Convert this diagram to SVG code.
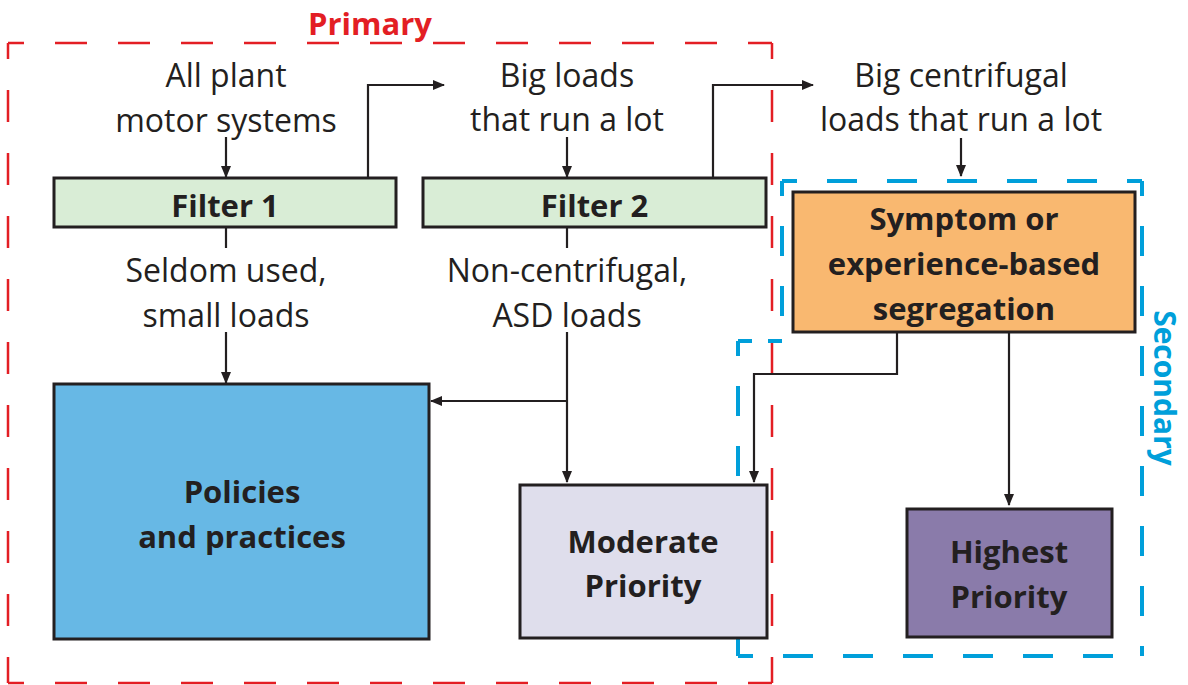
<svg xmlns="http://www.w3.org/2000/svg" width="1188" height="685" viewBox="0 0 1188 685">
<defs>
<style>
.lbl{font-family:"Open Sans","Liberation Sans",sans-serif;font-size:32px;fill:#231F20;text-anchor:middle}
.bold{font-family:"Open Sans","Liberation Sans",sans-serif;font-size:31px;font-weight:bold;fill:#231F20;text-anchor:middle}
.box{stroke:#231F20;stroke-width:3}
.conn{fill:none;stroke:#231F20;stroke-width:2.2}
.red{fill:none;stroke:#E31E24;stroke-width:2.5;stroke-dasharray:32 31;stroke-dashoffset:16}
.blue{fill:none;stroke:#009FDA;stroke-width:4;stroke-dasharray:30 30;stroke-dashoffset:15}
</style>
<marker id="ah" markerUnits="userSpaceOnUse" markerWidth="12" markerHeight="10" refX="11" refY="5" orient="auto">
<path d="M0,0 L12,5 L0,10 z" fill="#231F20"/>
</marker>
</defs>
<rect width="1188" height="685" fill="#FFFFFF"/>

<g id="region-primary">
<path class="red" d="M8,43 H772"/>
<path class="red" d="M772,43 V683"/>
<path class="red" d="M8,683 H772"/>
<path class="red" d="M8,43 V683"/>
<text x="370" y="35" class="bold" style="fill:#E31E24">Primary</text>
</g>

<g id="region-secondary">
<path class="blue" d="M782,181 H1142"/>
<path class="blue" d="M1142,181 V656"/>
<path class="blue" d="M738,656 H1142"/>
<path class="blue" d="M738,341 V656"/>
<path class="blue" d="M782,181 V341"/>
<path class="blue" d="M738,341 H782" style="stroke-dasharray:14 16 14;stroke-dashoffset:0"/>
<text transform="translate(1154,388) rotate(90)" class="bold" style="fill:#009FDA;font-size:30px">Secondary</text>
</g>

<g id="connectors">
<path class="conn" d="M226,137 V177" marker-end="url(#ah)"/>
<path class="conn" d="M368,178 V85 H444" marker-end="url(#ah)"/>
<path class="conn" d="M567,137 V177" marker-end="url(#ah)"/>
<path class="conn" d="M713,178 V85 H813" marker-end="url(#ah)"/>
<path class="conn" d="M961,138 V176" marker-end="url(#ah)"/>
<path class="conn" d="M226,228 V248"/>
<path class="conn" d="M226,332 V383" marker-end="url(#ah)"/>
<path class="conn" d="M567,228 V248"/>
<path class="conn" d="M567,332 V482" marker-end="url(#ah)"/>
<path class="conn" d="M567,401 H431" marker-end="url(#ah)"/>
<path class="conn" d="M897,332 V374 H754 V482" marker-end="url(#ah)"/>
<path class="conn" d="M1009,332 V505" marker-end="url(#ah)"/>
</g>

<g id="all-plant">
<text class="lbl" x="226" y="87">All plant</text>
<text class="lbl" x="226" y="132">motor systems</text>
</g>
<g id="big-loads">
<text class="lbl" x="567" y="87">Big loads</text>
<text class="lbl" x="567" y="131">that run a lot</text>
</g>
<g id="big-centrifugal">
<text class="lbl" x="961" y="87">Big centrifugal</text>
<text class="lbl" x="961" y="131">loads that run a lot</text>
</g>
<g id="seldom">
<text class="lbl" x="226" y="282">Seldom used,</text>
<text class="lbl" x="226" y="327">small loads</text>
</g>
<g id="non-centrifugal">
<text class="lbl" x="567" y="282">Non-centrifugal,</text>
<text class="lbl" x="567" y="327">ASD loads</text>
</g>

<g id="filter1">
<rect class="box" x="54" y="178" width="342" height="49" fill="#D9EDD6"/>
<text class="bold" x="225" y="217">Filter 1</text>
</g>
<g id="filter2">
<rect class="box" x="423" y="178" width="343" height="49" fill="#D9EDD6"/>
<text class="bold" x="594.5" y="217">Filter 2</text>
</g>
<g id="symptom">
<rect class="box" x="793" y="192" width="342" height="140" fill="#F9B870"/>
<text class="bold" x="964" y="230">Symptom or</text>
<text class="bold" x="964" y="275">experience-based</text>
<text class="bold" x="964" y="320">segregation</text>
</g>
<g id="policies">
<rect class="box" x="54" y="384" width="375" height="255" fill="#67B8E5"/>
<text class="bold" x="242" y="503">Policies</text>
<text class="bold" x="242" y="548">and practices</text>
</g>
<g id="moderate">
<rect class="box" x="520" y="485" width="247" height="153" fill="#DFDEEC"/>
<text class="bold" x="643" y="553">Moderate</text>
<text class="bold" x="643" y="597">Priority</text>
</g>
<g id="highest">
<rect class="box" x="907" y="509" width="205" height="128" fill="#8A7BAA"/>
<text class="bold" x="1009" y="563">Highest</text>
<text class="bold" x="1009" y="608">Priority</text>
</g>
</svg>
